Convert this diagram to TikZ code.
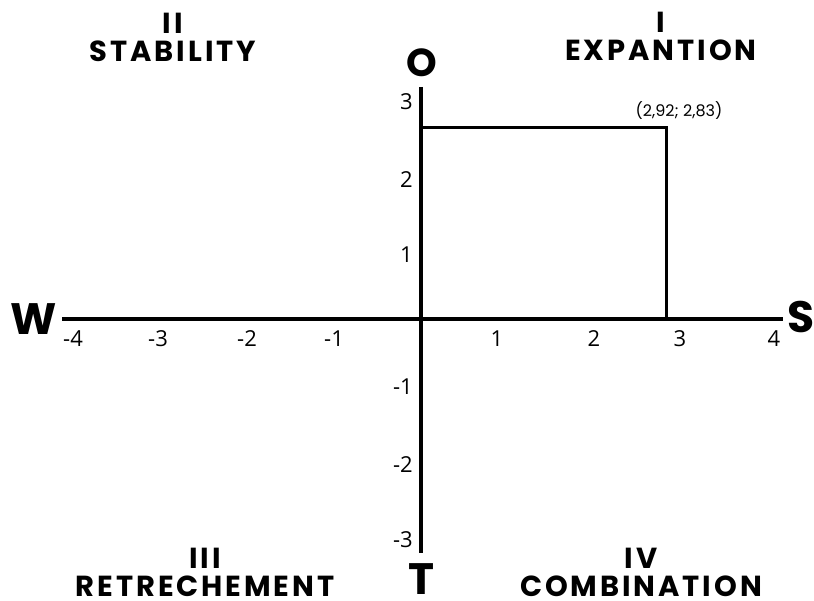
\documentclass[tikz,border=0pt]{standalone}
\usepackage{fontspec}
\newfontfamily\headfont[LetterSpace=10]{Poppins}
\newfontfamily\axfont{Poppins}
\newfontfamily\numfont{Open Sans}
\newfontfamily\smallfont{Poppins}
\begin{document}
\begin{tikzpicture}[x=1pt,y=-1pt,
  axis/.style={line width=4.5pt},
  rectline/.style={line width=3pt},
  head/.style={inner sep=0pt,anchor=south,align=center,text depth=0pt,
    font=\headfont\bfseries\fontsize{29}{28}\selectfont},
  axlab/.style={inner sep=0pt,anchor=south,text depth=0pt,font=\axfont\bfseries\fontsize{44}{44}\selectfont},
  num/.style={inner sep=0pt,anchor=base,font=\numfont\fontsize{22}{22}\selectfont},
  ynum/.style={num,anchor=base east},
  ptlab/.style={inner sep=0pt,anchor=base,font=\smallfont\fontsize{16}{17}\selectfont}]
\useasboundingbox (0,0) rectangle (814,601);
% axes
\coordinate (xl) at (62,319);
\coordinate (xr) at (783,319);
\coordinate (yt) at (421,87);
\coordinate (yb) at (421,553);
\draw[axis] (xl) -- (xr);
\draw[axis] (yt) -- (yb);
% rectangle
\coordinate (rtl) at (421,128);
\coordinate (rtr) at (666,128);
\coordinate (rbr) at (666,319);
\draw[rectline] (rtl) -- (rtr) -- (rbr);
\node[ptlab] (pt) at (679,117) {(2,92; 2,83)};
% axis letters
\node[axlab,font=\axfont\bfseries\fontsize{39}{39}\selectfont] (O) at (422,77) {O};
\node[axlab] (T) at (421,595) {T};
\node[axlab] (W) at (34,335) {W};
\node[axlab] (S) at (801,333) {S};
% quadrant headings
\node[head] (q2) at (173,62) {II\\STABILITY};
\node[head] (q1) at (661,61) {I\\EXPANTION};
\node[head] (q3) at (205,597) {III\\RETRECHEMENT};
\node[head] (q4) at (641,597) {IV\\COMBINATION};
% x tick labels
\node[num] (xm4) at (73,347) {-4};
\node[num] (xm3) at (158,347) {-3};
\node[num] (xm2) at (247,347) {-2};
\node[num] (xm1) at (334,347) {-1};
\node[num] (x1) at (497,347) {1};
\node[num] (x2) at (594,347) {2};
\node[num] (x3) at (680,347) {3};
\node[num] (x4) at (774,347) {4};
% y tick labels
\node[ynum] (y3) at (413,110) {3};
\node[ynum] (y2) at (413,188) {2};
\node[ynum] (y1) at (413,263) {1};
\node[ynum] (ym1) at (413,395) {-1};
\node[ynum] (ym2) at (413,472) {-2};
\node[ynum] (ym3) at (413,547) {-3};
\end{tikzpicture}
\end{document}
